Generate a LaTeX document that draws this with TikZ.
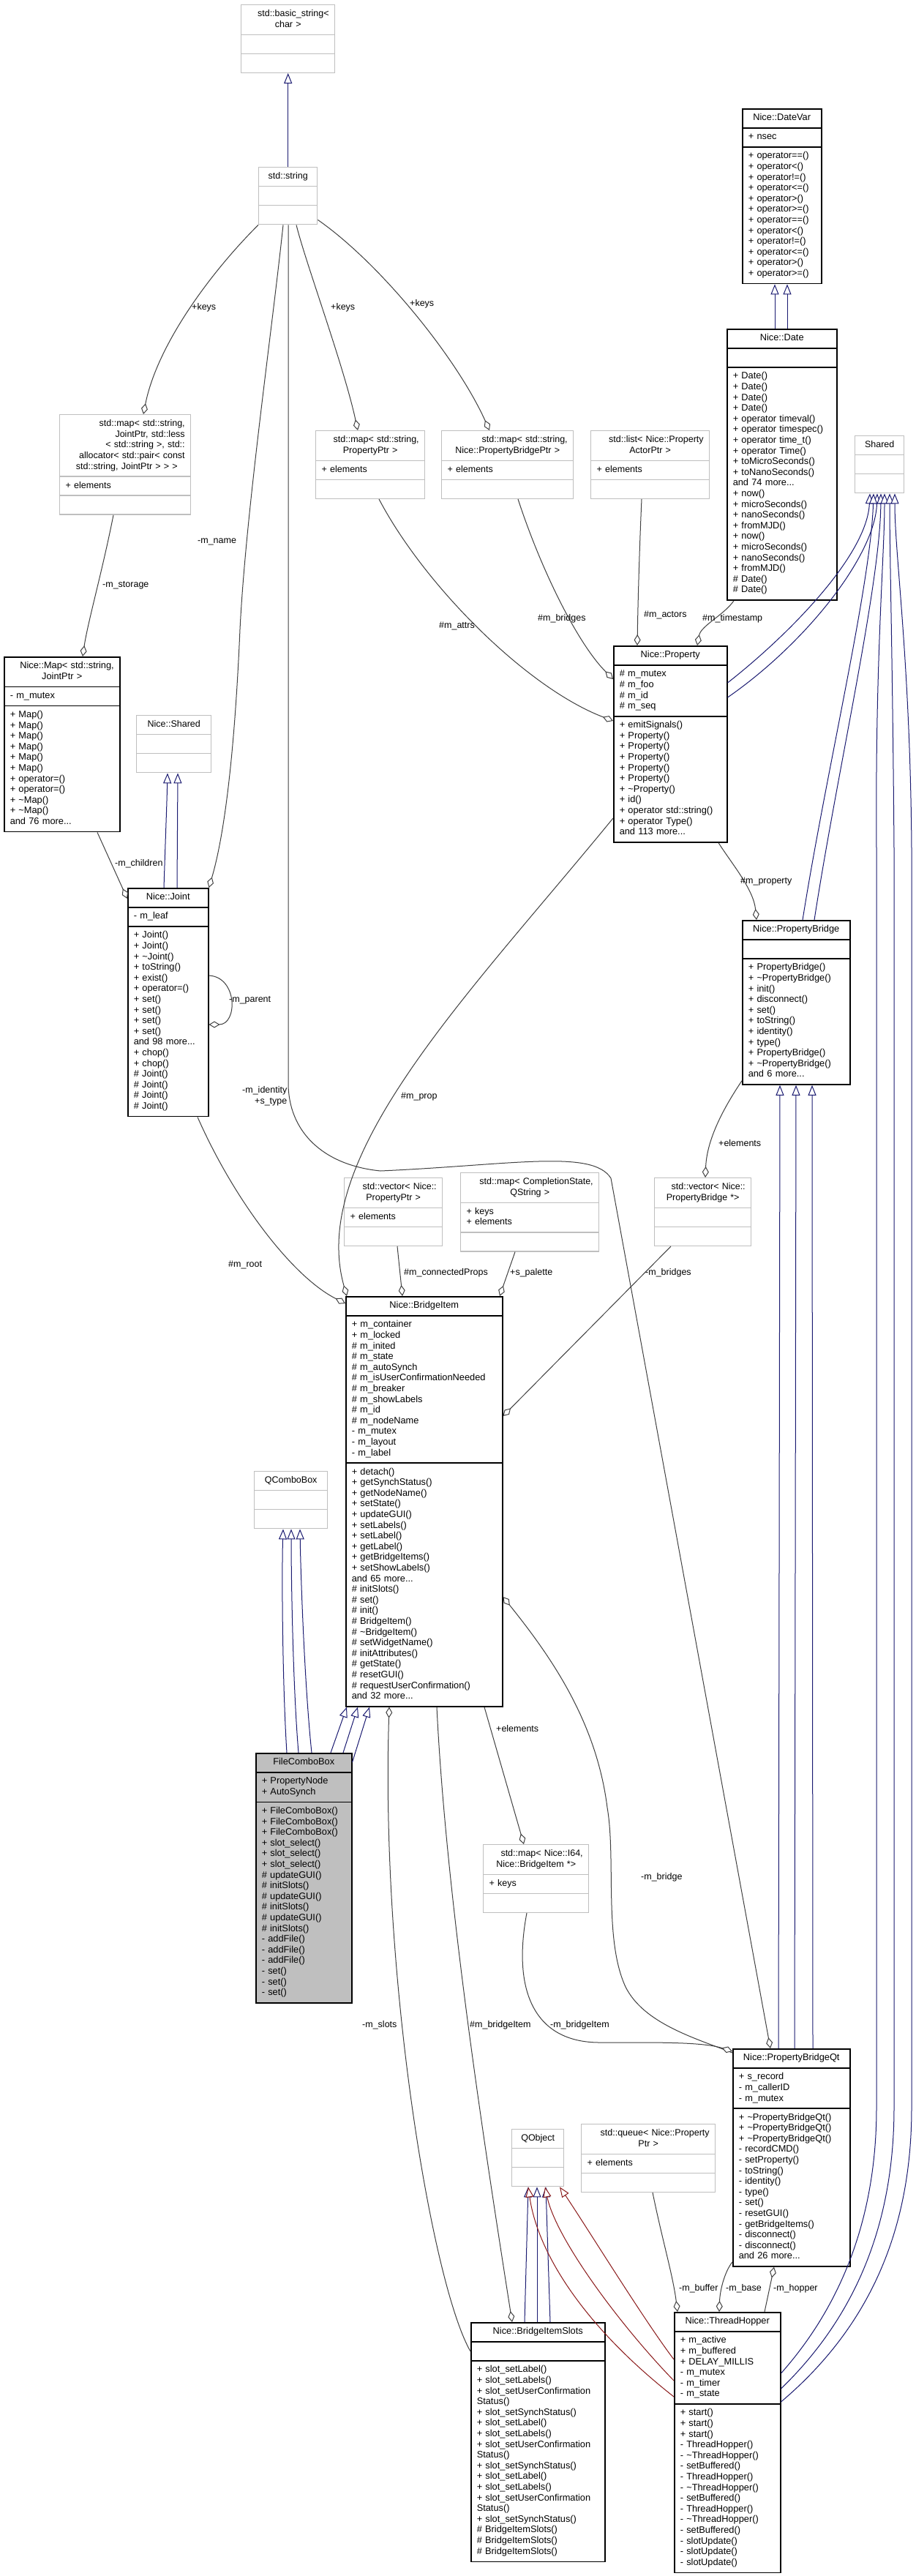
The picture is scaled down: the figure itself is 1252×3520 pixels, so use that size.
\documentclass[tikz,border=0pt]{standalone}
\usepackage{fontspec}
\setmainfont{Liberation Sans}
\usetikzlibrary{shapes.multipart,arrows.meta,calc}
\definecolor{grayline}{RGB}{191,191,191}
\definecolor{edgegray}{RGB}{64,64,64}
\definecolor{inhblue}{RGB}{25,25,112}
\definecolor{inhred}{RGB}{139,26,26}
\definecolor{fcbfill}{RGB}{191,191,191}
\newcommand\clsfont{\fontsize{12.8}{14.6}\selectfont}
\newcommand\grfont{\fontsize{12.5}{14.6}\selectfont}
\newcommand\tld{\textasciitilde}
\newcommand\cl[1]{\hspace*{\fill}#1\hspace*{\fill}}
\begin{document}
\begin{tikzpicture}[x=1pt,y=-1pt,
  umlbase/.style={rectangle split, rectangle split parts=3, anchor=north west,
    inner xsep=8pt, inner ysep=5pt, align=left, text=black, fill=white},
  blk/.style={umlbase, draw=black, line width=1.5pt, font=\clsfont},
  gry/.style={umlbase, draw=grayline, line width=1.4pt, font=\grfont},
  agg/.style={draw=edgegray, line width=1pt, -{Diamond[fill=white,length=15pt,width=9pt,line width=1pt]}},
  inh/.style={draw=inhblue, line width=1pt, -{Triangle[fill=white,length=14pt,width=11pt,line width=1pt]}},
  pinh/.style={draw=inhred, line width=1pt, -{Triangle[fill=white,length=14pt,width=11pt,line width=1pt]}},
  lbl/.style={font=\grfont, inner sep=0pt, anchor=west, text=black}]
\useasboundingbox (0,0) rectangle (1252,3520);
\fill[white] (0,0) rectangle (1252,3520);

% ---------------- classes ----------------
\node[gry, text width=112pt] (basicstr) at (329,6) {\cl{\strut std::basic\_string<}\\\cl{char >\strut}
  \nodepart{two}\strut \nodepart{three}\strut};
\node[gry, text width=64pt] (stdstr) at (353,228) {\cl{\strut std::string\strut}
  \nodepart{two}\strut \nodepart{three}\strut};
\node[gry, text width=163pt] (mapjoint) at (81,566) {\cl{\strut std::map< std::string,}\\\cl{ JointPtr, std::less}\\\cl{< std::string >, std::}\\\cl{allocator< std::pair< const}\\\cl{ std::string, JointPtr > > >\strut}
  \nodepart{two}\strut + elements\strut \nodepart{three}\strut};
\node[gry, text width=133pt] (mapprop) at (431,588) {\cl{\strut std::map< std::string,}\\\cl{PropertyPtr >\strut}
  \nodepart{two}\strut + elements\strut \nodepart{three}\strut};
\node[gry, text width=164pt] (mappb) at (603,588) {\cl{\strut std::map< std::string,}\\\cl{Nice::PropertyBridgePtr >\strut}
  \nodepart{two}\strut + elements\strut \nodepart{three}\strut};
\node[gry, text width=146pt] (listactor) at (807,588) {\cl{\strut std::list< Nice::Property}\\\cl{ActorPtr >\strut}
  \nodepart{two}\strut + elements\strut \nodepart{three}\strut};
\node[blk, text width=92pt] (datevar) at (1014,148) {\cl{\strut Nice::DateVar\strut}
  \nodepart{two}\strut + nsec\strut
  \nodepart{three}\strut + operator==()\\+ operator<()\\+ operator!=()\\+ operator<=()\\+ operator>()\\+ operator>=()\\+ operator==()\\+ operator<()\\+ operator!=()\\+ operator<=()\\+ operator>()\\+ operator>=()\strut};
\node[blk, text width=134pt] (date) at (993,449) {\cl{\strut Nice::Date\strut}
  \nodepart{two}\strut
  \nodepart{three}\strut + Date()\\+ Date()\\+ Date()\\+ Date()\\+ operator timeval()\\+ operator timespec()\\+ operator time\_t()\\+ operator Time()\\+ toMicroSeconds()\\+ toNanoSeconds()\\and 74 more...\\+ now()\\+ microSeconds()\\+ nanoSeconds()\\+ fromMJD()\\+ now()\\+ microSeconds()\\+ nanoSeconds()\\+ fromMJD()\\\# Date()\\\# Date()\strut};
\node[gry, text width=51pt] (shared) at (1168,595) {\cl{\strut Shared\strut}
  \nodepart{two}\strut \nodepart{three}\strut};
\node[blk, text width=142pt] (nmap) at (5,897) {\cl{\strut Nice::Map< std::string,}\\\cl{JointPtr >\strut}
  \nodepart{two}\strut - m\_mutex\strut
  \nodepart{three}\strut + Map()\\+ Map()\\+ Map()\\+ Map()\\+ Map()\\+ Map()\\+ operator=()\\+ operator=()\\+ \tld{}Map()\\+ \tld{}Map()\\and 76 more...\strut};
\node[gry, text width=86pt] (nshared) at (186,977) {\cl{\strut Nice::Shared\strut}
  \nodepart{two}\strut \nodepart{three}\strut};
\node[blk, text width=139pt] (property) at (838,882) {\cl{\strut Nice::Property\strut}
  \nodepart{two}\strut\# m\_mutex\\\# m\_foo\\\# m\_id\\\# m\_seq\strut
  \nodepart{three}\strut + emitSignals()\\+ Property()\\+ Property()\\+ Property()\\+ Property()\\+ Property()\\+ \tld{}Property()\\+ id()\\+ operator std::string()\\+ operator Type()\\and 113 more...\strut};
\node[blk, text width=94pt] (joint) at (174,1213) {\cl{\strut Nice::Joint\strut}
  \nodepart{two}\strut - m\_leaf\strut
  \nodepart{three}\strut + Joint()\\+ Joint()\\+ \tld{}Joint()\\+ toString()\\+ exist()\\+ operator=()\\+ set()\\+ set()\\+ set()\\+ set()\\and 98 more...\\+ chop()\\+ chop()\\\# Joint()\\\# Joint()\\\# Joint()\\\# Joint()\strut};
\node[blk, text width=131pt] (pbridge) at (1014,1257) {\cl{\strut Nice::PropertyBridge\strut}
  \nodepart{two}\strut
  \nodepart{three}\strut + PropertyBridge()\\+ \tld{}PropertyBridge()\\+ init()\\+ disconnect()\\+ set()\\+ toString()\\+ identity()\\+ type()\\+ PropertyBridge()\\+ \tld{}PropertyBridge()\\and 6 more...\strut};
\node[gry, text width=118pt] (vecprop) at (470,1609) {\cl{\strut std::vector< Nice::}\\\cl{PropertyPtr >\strut}
  \nodepart{two}\strut + elements\strut \nodepart{three}\strut};
\node[gry, text width=173pt] (mapcs) at (629,1602) {\cl{\strut std::map< CompletionState,}\\\cl{QString >\strut}
  \nodepart{two}\strut + keys\\+ elements\strut \nodepart{three}\strut};
\node[gry, text width=116pt] (vecpb) at (894,1609) {\cl{\strut std::vector< Nice::}\\\cl{PropertyBridge *>\strut}
  \nodepart{two}\strut \nodepart{three}\strut};
\node[blk, text width=198pt] (bitem) at (472,1771) {\cl{\strut Nice::BridgeItem\strut}
  \nodepart{two}\strut + m\_container\\+ m\_locked\\\# m\_inited\\\# m\_state\\\# m\_autoSynch\\\# m\_isUserConfirmationNeeded\\\# m\_breaker\\\# m\_showLabels\\\# m\_id\\\# m\_nodeName\\- m\_mutex\\- m\_layout\\- m\_label\strut
  \nodepart{three}\strut + detach()\\+ getSynchStatus()\\+ getNodeName()\\+ setState()\\+ updateGUI()\\+ setLabels()\\+ setLabel()\\+ getLabel()\\+ getBridgeItems()\\+ setShowLabels()\\and 65 more...\\\# initSlots()\\\# set()\\\# init()\\\# BridgeItem()\\\# \tld{}BridgeItem()\\\# setWidgetName()\\\# initAttributes()\\\# getState()\\\# resetGUI()\\\# requestUserConfirmation()\\and 32 more...\strut};
\node[gry, text width=84pt] (qcombo) at (347,2010) {\cl{\strut QComboBox\strut}
  \nodepart{two}\strut \nodepart{three}\strut};
\node[blk, fill=fcbfill, text width=115pt] (fcb) at (349,2395) {\cl{\strut FileComboBox\strut}
  \nodepart{two}\strut + PropertyNode\\+ AutoSynch\strut
  \nodepart{three}\strut + FileComboBox()\\+ FileComboBox()\\+ FileComboBox()\\+ slot\_select()\\+ slot\_select()\\+ slot\_select()\\\# updateGUI()\\\# initSlots()\\\# updateGUI()\\\# initSlots()\\\# updateGUI()\\\# initSlots()\\- addFile()\\- addFile()\\- addFile()\\- set()\\- set()\\- set()\strut};
\node[gry, text width=128pt] (mapi64) at (660,2520) {\cl{\strut std::map< Nice::I64,}\\\cl{Nice::BridgeItem *>\strut}
  \nodepart{two}\strut + keys\strut \nodepart{three}\strut};
\node[blk, text width=144pt] (pbqt) at (1001,2799) {\cl{\strut Nice::PropertyBridgeQt\strut}
  \nodepart{two}\strut + s\_record\\- m\_callerID\\- m\_mutex\strut
  \nodepart{three}\strut + \tld{}PropertyBridgeQt()\\+ \tld{}PropertyBridgeQt()\\+ \tld{}PropertyBridgeQt()\\- recordCMD()\\- setProperty()\\- toString()\\- identity()\\- type()\\- set()\\- resetGUI()\\- getBridgeItems()\\- disconnect()\\- disconnect()\\and 26 more...\strut};
\node[gry, text width=55pt] (qobject) at (699,2909) {\cl{\strut QObject\strut}
  \nodepart{two}\strut \nodepart{three}\strut};
\node[gry, text width=167pt] (queue) at (794,2902) {\cl{\strut std::queue< Nice::Property}\\\cl{Ptr >\strut}
  \nodepart{two}\strut + elements\strut \nodepart{three}\strut};
\node[blk, text width=167pt] (bislots) at (643,3173) {\cl{\strut Nice::BridgeItemSlots\strut}
  \nodepart{two}\strut
  \nodepart{three}\strut + slot\_setLabel()\\+ slot\_setLabels()\\+ slot\_setUserConfirmation\\Status()\\+ slot\_setSynchStatus()\\+ slot\_setLabel()\\+ slot\_setLabels()\\+ slot\_setUserConfirmation\\Status()\\+ slot\_setSynchStatus()\\+ slot\_setLabel()\\+ slot\_setLabels()\\+ slot\_setUserConfirmation\\Status()\\+ slot\_setSynchStatus()\\\# BridgeItemSlots()\\\# BridgeItemSlots()\\\# BridgeItemSlots()\strut};
\node[blk, text width=129pt] (thopper) at (921,3159) {\cl{\strut Nice::ThreadHopper\strut}
  \nodepart{two}\strut + m\_active\\+ m\_buffered\\+ DELAY\_MILLIS\\- m\_mutex\\- m\_timer\\- m\_state\strut
  \nodepart{three}\strut + start()\\+ start()\\+ start()\\- ThreadHopper()\\- \tld{}ThreadHopper()\\- setBuffered()\\- ThreadHopper()\\- \tld{}ThreadHopper()\\- setBuffered()\\- ThreadHopper()\\- \tld{}ThreadHopper()\\- setBuffered()\\- slotUpdate()\\- slotUpdate()\\- slotUpdate()\strut};

% ---------------- inheritance ----------------
\draw[inh] (stdstr.north) -- (basicstr.south);
\draw[inh] ($(date.north west)+(66,0)$) -- ($(datevar.south west)+(45,0)$);
\draw[inh] ($(date.north west)+(83,0)$) -- ($(datevar.south west)+(62,0)$);
\draw[inh] ($(joint.north west)+(50,0)$) .. controls (226,1150) and (228,1100) .. ($(nshared.south west)+(43,0)$);
\draw[inh] ($(joint.north west)+(68,0)$) -- ($(nshared.south west)+(57,0)$);
\draw[inh] ($(property.north east)+(0,51)$) .. controls (1075,870) and (1185,760) .. ($(shared.south west)+(21,0)$);
\draw[inh] ($(property.north east)+(0,71)$) .. controls (1100,880) and (1196,760) .. ($(shared.south west)+(31,0)$);
\draw[inh] ($(pbridge.north west)+(83,0)$) .. controls (1130,1050) and (1190,800) .. ($(shared.south west)+(26,0)$);
\draw[inh] ($(pbridge.north west)+(99,0)$) .. controls (1145,1050) and (1203,800) .. ($(shared.south west)+(36,0)$);
\draw[inh] ($(thopper.north east)+(0,84)$) .. controls (1150,3150) and (1198,3030) .. (1198,2880) -- (1198,1160) .. controls (1196,900) and (1209,760) .. ($(shared.south west)+(41,0)$);
\draw[inh] ($(thopper.north east)+(0,105)$) .. controls (1175,3160) and (1222,3030) .. (1222,2880) -- (1222,1160) .. controls (1220,900) and (1216,760) .. ($(shared.south west)+(48,0)$);
\draw[inh] ($(thopper.north east)+(0,123)$) .. controls (1200,3170) and (1246,3030) .. (1246,2880) -- (1246,1160) .. controls (1244,900) and (1223,760) .. ($(shared.south west)+(55,0)$);
\draw[inh] ($(pbqt.north west)+(63,0)$) -- ($(pbridge.south west)+(52,0)$);
\draw[inh] ($(pbqt.north west)+(85,0)$) -- ($(pbridge.south west)+(74,0)$);
\draw[inh] ($(pbqt.north west)+(110,0)$) -- ($(pbridge.south west)+(96,0)$);
\draw[inh] ($(fcb.north west)+(43,0)$) .. controls (386,2300) and (385,2150) .. ($(qcombo.south west)+(40,0)$);
\draw[inh] ($(fcb.north west)+(59,0)$) .. controls (400,2300) and (398,2150) .. ($(qcombo.south west)+(51,0)$);
\draw[inh] ($(fcb.north west)+(77,0)$) .. controls (416,2300) and (411,2150) .. ($(qcombo.south west)+(63,0)$);
\draw[inh] ($(fcb.north west)+(103,0)$) -- ($(bitem.south west)+(2,0)$);
\draw[inh] ($(fcb.north west)+(120,0)$) -- ($(bitem.south west)+(17,0)$);
\draw[inh] ($(fcb.north east)+(0,13)$) -- ($(bitem.south west)+(33,0)$);
\draw[inh] ($(bislots.north west)+(74,0)$) -- ($(qobject.south west)+(23,0)$);
\draw[inh] ($(bislots.north west)+(91,0)$) -- ($(qobject.south west)+(35,0)$);
\draw[inh] ($(bislots.north west)+(109,0)$) -- ($(qobject.south west)+(47,0)$);
\draw[pinh] ($(thopper.north west)+(0,65)$) .. controls (880,3170) and (800,3040) .. ($(qobject.south west)+(66,0)$);
\draw[pinh] ($(thopper.north west)+(0,94)$) .. controls (850,3180) and (760,3060) .. ($(qobject.south west)+(46,0)$);
\draw[pinh] ($(thopper.north west)+(0,116)$) .. controls (800,3180) and (735,3080) .. ($(qobject.south west)+(23,0)$);

% ---------------- aggregation ----------------
\draw[agg] (stdstr.south west) .. controls (290,370) and (215,470) .. ($(mapjoint.north west)+(115,0)$);
\draw[agg] ($(stdstr.south west)+(34,0)$) .. controls (372,450) and (336,700) .. (328,860) .. controls (322,1000) and (310,1130) .. (joint.north east);
\draw[agg] ($(stdstr.south west)+(41,0)$) -- (394,1480) .. controls (394,1545) and (440,1592) .. (520,1600) .. controls (700,1592) and (810,1570) .. (835,1610) -- ($(pbqt.north west)+(52,0)$);
\draw[agg] ($(stdstr.south west)+(52,0)$) .. controls (418,360) and (470,500) .. ($(mapprop.north west)+(58,0)$);
\draw[agg] ($(stdstr.south east)+(0,-7)$) .. controls (520,360) and (625,490) .. ($(mappb.north west)+(66,0)$);
\draw[agg] ($(mapjoint.south west)+(74,0)$) .. controls (140,780) and (120,850) .. ($(nmap.north west)+(108,0)$);
\draw[agg] ($(mapprop.south west)+(87,0)$) .. controls (580,800) and (720,940) .. ($(property.north west)+(0,103)$);
\draw[agg] ($(mappb.south west)+(105,0)$) .. controls (740,780) and (790,880) .. ($(property.north west)+(0,46)$);
\draw[agg] ($(listactor.south west)+(70,0)$) .. controls (874,750) and (872,820) .. ($(property.north west)+(33,0)$);
\draw[agg] ($(date.south west)+(10,0)$) .. controls (990,840) and (958,855) .. ($(property.north west)+(115,0)$);
\draw[agg] ($(nmap.south west)+(128,0)$) -- ($(joint.north west)+(0,15)$);
\draw[agg] ($(joint.north east)+(0,120)$) .. controls (325,1335) and (325,1400) .. ($(joint.north east)+(0,187)$);
\draw[agg] ($(joint.south west)+(96,0)$) .. controls (320,1640) and (400,1745) .. ($(bitem.north west)+(0,10)$);
\draw[agg] ($(property.north west)+(0,236)$) .. controls (640,1360) and (420,1580) .. ($(bitem.north west)+(2,0)$);
\draw[agg] ($(vecprop.south west)+(73,0)$) -- ($(bitem.north west)+(78,0)$);
\draw[agg] ($(mapcs.south west)+(75,0)$) -- ($(bitem.north west)+(211,0)$);
\draw[agg] ($(vecpb.south west)+(23,0)$) -- ($(bitem.north east)+(0,164)$);
\draw[agg] ($(pbridge.south west)+(0,-6)$) .. controls (985,1520) and (966,1560) .. ($(vecpb.north west)+(70,0)$);
\draw[agg] ($(property.south west)+(144,0)$) .. controls (1000,1180) and (1030,1215) .. ($(pbridge.north west)+(20,0)$);
\draw[agg] ($(pbqt.north west)+(0,6)$) .. controls (950,2785) and (880,2765) .. (855,2715) .. controls (825,2650) and (842,2540) .. (830,2470) .. controls (815,2350) and (750,2260) .. ($(bitem.north east)+(0,411)$);
\draw[agg] ($(mapi64.south west)+(60,0)$) .. controls (700,2720) and (730,2791) .. (820,2791) .. controls (900,2791) and (960,2790) .. ($(pbqt.north west)+(0,4)$);
\draw[agg] ($(bitem.south west)+(190,0)$) -- ($(mapi64.north west)+(56,0)$);
\draw[agg] ($(bitem.south west)+(125,0)$) .. controls (610,2600) and (665,2950) .. ($(bislots.north west)+(57,0)$);
\draw[agg] ($(bislots.north west)+(0,40)$) .. controls (590,3120) and (520,2700) .. ($(bitem.south west)+(60,0)$);
\draw[agg] ($(queue.south west)+(98,0)$) .. controls (905,3060) and (920,3110) .. ($(thopper.north west)+(5,0)$);
\draw[agg] ($(pbqt.south west)+(0,-7)$) .. controls (990,3105) and (984,3130) .. ($(thopper.north west)+(62,0)$);
\draw[agg] ($(thopper.north west)+(124,0)$) -- ($(pbqt.south west)+(57,0)$);

% ---------------- labels ----------------
\node[lbl] (k1) at (262,420) {+keys};
\node[lbl] (k2) at (452,420) {+keys};
\node[lbl] (k3) at (560,415) {+keys};
\node[lbl] (lstor) at (140,800) {-m\_storage};
\node[lbl] (lname) at (270,740) {-m\_name};
\node[lbl] (lattrs) at (600,855) {\#m\_attrs};
\node[lbl] (lbridges) at (735,845) {\#m\_bridges};
\node[lbl] (lactors) at (880,840) {\#m\_actors};
\node[lbl] (ltime) at (960,845) {\#m\_timestamp};
\node[lbl] (lchild) at (157,1180) {-m\_children};
\node[lbl] (lparent) at (313,1367) {-m\_parent};
\node[lbl] (lproperty) at (1012,1205) {\#m\_property};
\node[lbl] (lelem1) at (982,1562) {+elements};
\node[lbl] (lroot) at (312,1728) {\#m\_root};
\node[lbl] (lprop) at (548,1499) {\#m\_prop};
\node[lbl] (lident) at (331,1490) {-m\_identity};
\node[lbl] (ltype) at (348,1506) {+s\_type};
\node[lbl] (lconn) at (552,1739) {\#m\_connectedProps};
\node[lbl] (lpal) at (697,1739) {+s\_palette};
\node[lbl] (lbrs) at (882,1739) {-m\_bridges};
\node[lbl] (lelem2) at (678,2362) {+elements};
\node[lbl] (lbridge) at (876,2565) {-m\_bridge};
\node[lbl] (lslots) at (495,2767) {-m\_slots};
\node[lbl] (lbi1) at (642,2767) {\#m\_bridgeItem};
\node[lbl] (lbi2) at (752,2767) {-m\_bridgeItem};
\node[lbl] (lbuf) at (928,3127) {-m\_buffer};
\node[lbl] (lbase) at (992,3127) {-m\_base};
\node[lbl] (lhop) at (1057,3127) {-m\_hopper};
\end{tikzpicture}
\end{document}
